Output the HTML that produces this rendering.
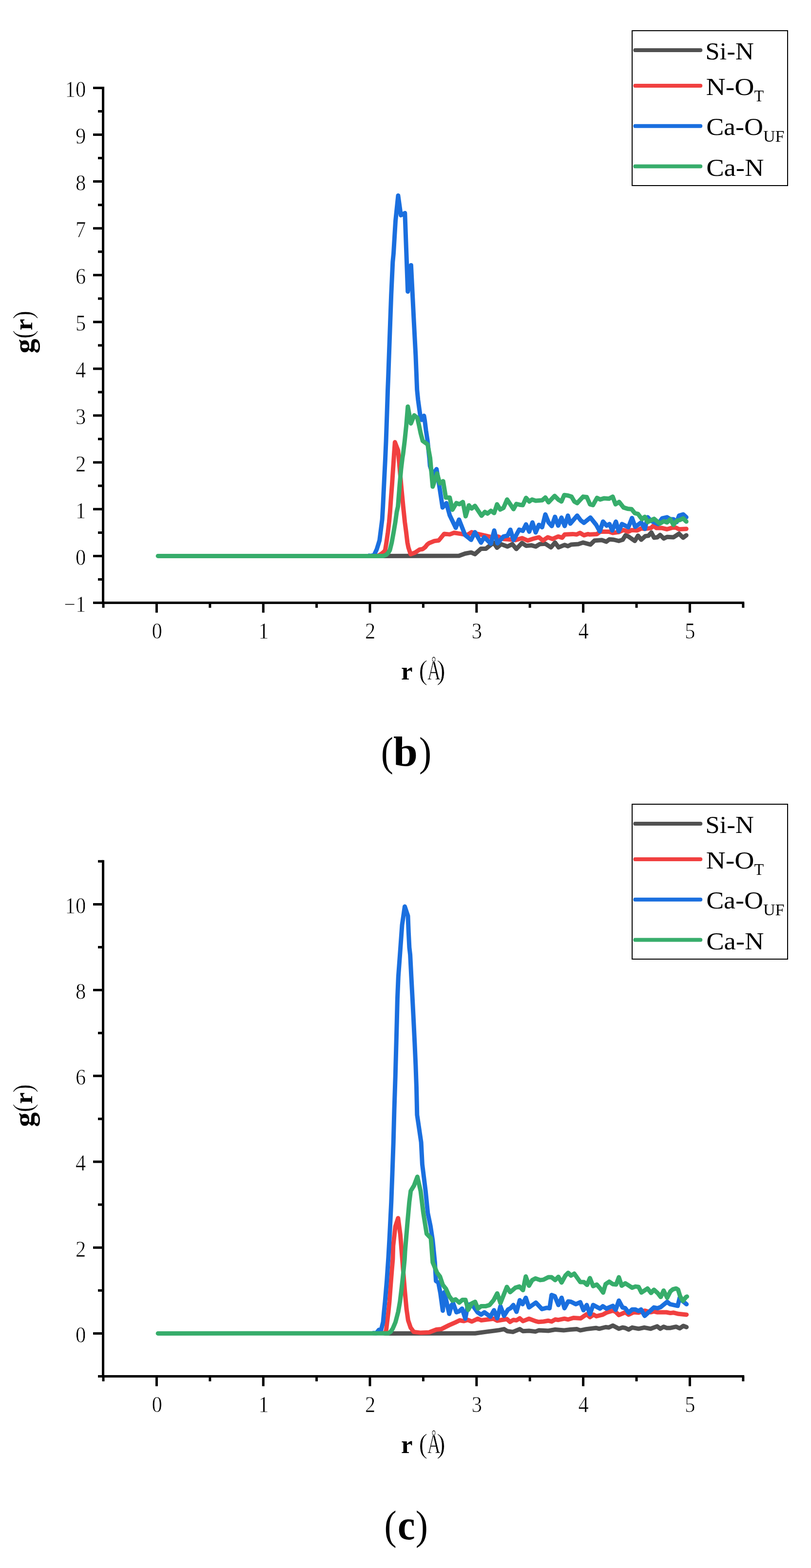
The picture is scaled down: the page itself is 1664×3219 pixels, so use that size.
<!DOCTYPE html>
<html lang="en">
<head>
<meta charset="utf-8">
<title>Radial distribution functions g(r) – panels (b) and (c)</title>
<style>
html,body{margin:0;padding:0;background:#fff;}
body{width:1664px;height:3219px;overflow:hidden;}
svg{display:block;font-family:"Liberation Serif","DejaVu Serif",serif;fill:#000;}
.tk text{font-size:46px;stroke:#fff;stroke-width:0.7px;}
.lg text{font-size:51px;}
.lg .sb{font-size:33.5px;}
.yt{font-size:53px;}
.yg{font-size:60px;}
.yp{font-size:58px;stroke:#fff;stroke-width:0.7px;}
.th{stroke:#fff;stroke-width:0.7px;}
.xa{font-size:58px;}
.xt{font-size:53px;}
.cap{font-size:84px;}
.cb{font-size:87px;}
.b{font-weight:bold;}
</style>
</head>
<body>
<svg width="1664" height="3219" viewBox="0 0 1664 3219">
<rect width="1664" height="3219" fill="#fff"/>
<g id="panel-b">
<g stroke="#000" stroke-width="5" fill="none">
<path d="M211.5 177.9 V1240"/>
<path d="M209 1237.5 H1527.1"/>
<path d="M211.5 1237.5 H191 M211.5 1141.4 H191 M211.5 1045.3 H191 M211.5 949.2 H191 M211.5 853.1 H191 M211.5 757 H191 M211.5 660.9 H191 M211.5 564.8 H191 M211.5 468.7 H191 M211.5 372.6 H191 M211.5 276.5 H191 M211.5 180.4 H191 M211.5 1189.5 H201 M211.5 1093.4 H201 M211.5 997.3 H201 M211.5 901.2 H201 M211.5 805.1 H201 M211.5 709 H201 M211.5 612.9 H201 M211.5 516.8 H201 M211.5 420.7 H201 M211.5 324.6 H201 M211.5 228.5 H201 M321.4 1237.5 V1257.8 M540.2 1237.5 V1257.8 M759 1237.5 V1257.8 M977.8 1237.5 V1257.8 M1196.6 1237.5 V1257.8 M1415.4 1237.5 V1257.8 M212 1237.5 V1247.8 M430.8 1237.5 V1247.8 M649.6 1237.5 V1247.8 M868.4 1237.5 V1247.8 M1087.2 1237.5 V1247.8 M1306 1237.5 V1247.8 M1524.8 1237.5 V1247.8"/>
</g>
<g class="tk">
<text x="131.5" y="1255.8" textLength="44.7" lengthAdjust="spacingAndGlyphs">−1</text>
<text x="154.9" y="1159.7" textLength="21.3" lengthAdjust="spacingAndGlyphs">0</text>
<text x="154.9" y="1063.6" textLength="21.3" lengthAdjust="spacingAndGlyphs">1</text>
<text x="154.9" y="967.5" textLength="21.3" lengthAdjust="spacingAndGlyphs">2</text>
<text x="154.9" y="871.4" textLength="21.3" lengthAdjust="spacingAndGlyphs">3</text>
<text x="154.9" y="775.3" textLength="21.3" lengthAdjust="spacingAndGlyphs">4</text>
<text x="154.9" y="679.2" textLength="21.3" lengthAdjust="spacingAndGlyphs">5</text>
<text x="154.9" y="583.1" textLength="21.3" lengthAdjust="spacingAndGlyphs">6</text>
<text x="154.9" y="487" textLength="21.3" lengthAdjust="spacingAndGlyphs">7</text>
<text x="154.9" y="390.9" textLength="21.3" lengthAdjust="spacingAndGlyphs">8</text>
<text x="154.9" y="294.8" textLength="21.3" lengthAdjust="spacingAndGlyphs">9</text>
<text x="133.6" y="198.7" textLength="42.6" lengthAdjust="spacingAndGlyphs">10</text>
<text x="311.4" y="1310.7" textLength="21.3" lengthAdjust="spacingAndGlyphs">0</text>
<text x="530.2" y="1310.7" textLength="21.3" lengthAdjust="spacingAndGlyphs">1</text>
<text x="749" y="1310.7" textLength="21.3" lengthAdjust="spacingAndGlyphs">2</text>
<text x="967.8" y="1310.7" textLength="21.3" lengthAdjust="spacingAndGlyphs">3</text>
<text x="1186.5" y="1310.7" textLength="21.3" lengthAdjust="spacingAndGlyphs">4</text>
<text x="1405.3" y="1310.7" textLength="21.3" lengthAdjust="spacingAndGlyphs">5</text>
</g>
<polyline points="780,1141.4 941.8,1141 954.2,1136.5 966.6,1134.2 974.5,1137.6 986.9,1126.4 997,1126.4 1012.8,1114 1019.8,1124.5 1028.1,1117.1 1041.3,1122 1051.2,1117.1 1059.5,1127 1071,1114.6 1079.3,1120.4 1090.8,1119.6 1099.1,1122 1107.4,1117.1 1118.9,1116.3 1130.5,1123.7 1138.7,1113.8 1146.2,1123.7 1158.6,1118.7 1165.2,1121.2 1171.8,1117.9 1186.6,1117.1 1196.5,1113.8 1211.4,1117.9 1219.9,1109.7 1234.8,1108.8 1243.9,1112.1 1250.5,1107.2 1259.5,1108 1269.5,1110.5 1277.7,1108 1283.5,1098.9 1289.3,1101.4 1302.5,1110.5 1309.1,1099.7 1315.7,1108 1324,1100.6 1330.6,1099.7 1336.4,1093.1 1342.1,1103.9 1348.7,1103 1354.5,1098.1 1362,1105.5 1368.6,1102.2 1381.8,1103 1393.3,1095.6 1401.6,1103.9 1408.2,1098.9" fill="none" stroke="#515151" stroke-width="9" stroke-linejoin="round" stroke-linecap="round"/>
<polyline points="771,1140.8 776,1141 782,1137.5 787.5,1133 790.3,1129.4 792.9,1113.6 795.9,1092.6 798.4,1071.5 800.3,1050.5 802,1026.2 804.4,994.6 806.5,963.1 808.6,931.5 810.3,907.8 816.8,924.8 823.6,1001.4 827.3,1040 830.6,1071.5 833.4,1092.6 835.9,1113.6 838,1124.1 842.5,1137.8 851.5,1134.6 860.9,1128.3 867.2,1127.3 872.5,1123.1 876.7,1117.8 880.1,1115.2 891.2,1110.6 900.2,1109.5 911.4,1095.9 922.7,1097.1 931.7,1093.7 945.2,1095.9 958.7,1098.2 967.7,1092.6 979,1095.9 994.8,1099.3 1008.3,1102.7 1021.5,1101.4 1033,1106.4 1042.9,1107.2 1057.8,1108.8 1071,1104.7 1082.6,1109.7 1092.5,1106.4 1105.7,1103 1114,1109.7 1123.9,1103 1133.8,1106.4 1145.3,1101.4 1153.6,1103.9 1158.6,1097.3 1175.1,1096.4 1183.3,1097.3 1189.9,1094 1198.2,1098.9 1206.5,1096.4 1210,1097.3 1224.9,1096.4 1231.5,1091.5 1249.6,1091.5 1257.1,1094 1269.5,1092.3 1279.4,1088.2 1289.3,1091.5 1295.9,1088.2 1307.4,1089 1315.7,1084.9 1322.3,1085.7 1335.5,1084.1 1340.5,1079.1 1347.1,1084.1 1358.6,1084.1 1368.6,1086.5 1380.1,1083.2 1386.7,1083.2 1393.3,1086.5 1408.2,1085.7" fill="none" stroke="#F14040" stroke-width="9" stroke-linejoin="round" stroke-linecap="round"/>
<polyline points="757,1140.8 762.3,1141.2 767.8,1138.8 773.2,1127.3 778.7,1109.4 784.2,1066.3 785.7,1040 788.4,984.1 790.5,942 792.1,905.2 793.9,852.6 795.6,800 796.6,775.1 800.6,662.5 802.7,605.2 805.8,537.7 807.5,519.9 811.5,453.6 816.9,401.6 822.5,441.9 830.8,437.4 836.7,598.5 843.4,544.4 849.3,661.5 852.9,730 855.7,800 857.8,821 860.7,842.1 863.1,858.9 865.2,862 869.9,853.6 871.5,863.1 874.1,884.1 877.3,905.2 879.4,926.2 880.9,940 882.2,956.3 887.8,974.3 895.7,963.1 900.2,990.1 908.1,1041.9 915.9,1032.9 922.7,1057.7 935.1,1083.6 941.8,1066.7 954.2,1098.2 966.6,1108.3 974.5,1092.6 986.9,1114 993.6,1102.7 1007.2,1116.2 1014,1089 1020.6,1115.4 1033,1101.4 1041.3,1099.7 1047.1,1087.4 1053.7,1108.8 1065.2,1087.4 1072.7,1089.8 1079.3,1076.6 1085.9,1091.5 1092.5,1072.5 1099.1,1093.1 1105.7,1077.4 1112.3,1082.4 1118.9,1056 1125.5,1072.5 1132.1,1079.9 1138.7,1060.9 1145.3,1079.1 1152,1062.6 1158.6,1079.9 1165.2,1058.5 1170.1,1075 1184.2,1058.5 1191.6,1068.4 1198.2,1073.3 1211.4,1062.6 1223.2,1077.4 1230.6,1090.7 1237.3,1070.8 1244.7,1079.1 1250.5,1075.8 1256.2,1089 1263.7,1070.8 1269.5,1090.7 1276.1,1075.8 1282.7,1079.1 1289.3,1082.4 1296.7,1063.4 1303.3,1081.6 1315.7,1072.5 1323.1,1085.7 1328.9,1061.8 1335.5,1069.2 1350.4,1075.8 1358.6,1064.2 1368.6,1061.8 1375.2,1065.9 1381.8,1065.9 1388.4,1071.7 1393.3,1058.5 1401.6,1056 1408.2,1061.8" fill="none" stroke="#1A6FDF" stroke-width="9" stroke-linejoin="round" stroke-linecap="round"/>
<polyline points="324.1,1141.4 786.3,1141.4 792.6,1138.8 796.8,1134.6 799.9,1129.4 803.8,1113.6 807.6,1092.6 811.2,1071.5 814.1,1050.5 816.5,1040 817.6,1026.2 820.1,994.6 822.9,963.1 825.7,940 827.1,931.5 830.3,905.2 833.6,873.6 836.8,834.7 843.1,869.4 849.9,852.6 856.2,857.8 859.4,871.5 863.1,889.4 867.3,905.2 874.6,910.4 877.3,912.5 879.9,926.2 882.5,940 887.8,999.1 896.8,972.1 902.4,992.3 909.2,987.8 914.8,1021.6 922.7,1021.6 928.3,1046.4 936.2,1032.9 943,1035.1 949.7,1030.6 955.4,1059.9 962.1,1037.4 967.7,1044.1 974.5,1038.5 988,1058.8 994.8,1050.9 1000.4,1054.3 1007.2,1048.6 1013.9,1053.2 1019.8,1035.3 1026.4,1046.1 1033,1042.8 1040.5,1025.4 1053.7,1045.2 1059.5,1034.5 1066.1,1036.2 1072.7,1037 1079.3,1022.1 1085.9,1029.5 1091.7,1025.4 1099.1,1027.9 1112.3,1027.1 1118.9,1021.3 1125.5,1031.2 1137.9,1018 1146.2,1026.2 1152,1029.5 1157.7,1016.3 1165.2,1017.2 1172.6,1019.6 1178.4,1029.5 1184.2,1032.9 1196.5,1019.6 1204,1020.5 1210.6,1035.3 1216.6,1037 1224.9,1022.1 1231.5,1025.4 1239.7,1022.9 1249.6,1023.8 1257.1,1019.6 1262.9,1035.3 1270.3,1030.4 1279.4,1041.9 1287.6,1044.4 1295.9,1045.2 1302.5,1053.5 1309.1,1055.2 1317.4,1065.9 1323.1,1060.9 1328.9,1071.7 1342.1,1065.1 1353.7,1075 1362,1070 1368.6,1072.5 1375.2,1065.9 1381.8,1077.4 1388.4,1069.2 1395,1067.5 1401.6,1064.2 1408.2,1070.8" fill="none" stroke="#37AD6B" stroke-width="9" stroke-linejoin="round" stroke-linecap="round"/>
<rect x="1297" y="63" width="319" height="318" fill="#fff" stroke="#000" stroke-width="2"/>
<path d="M1303.2 103 H1437.2" stroke="#515151" stroke-width="8" stroke-linecap="round"/>
<path d="M1303.2 176 H1437.2" stroke="#F14040" stroke-width="8" stroke-linecap="round"/>
<path d="M1303.2 258.7 H1437.2" stroke="#1A6FDF" stroke-width="8" stroke-linecap="round"/>
<path d="M1303.2 341.5 H1437.2" stroke="#37AD6B" stroke-width="8" stroke-linecap="round"/>
<g class="lg">
<text x="1447.2" y="121.9" textLength="99.7" lengthAdjust="spacingAndGlyphs">Si-N</text>
<text x="1448.5" y="194.7"><tspan textLength="98.9" lengthAdjust="spacingAndGlyphs">N-O</tspan><tspan class="sb" dy="13.2" textLength="19.6" lengthAdjust="spacingAndGlyphs">T</tspan></text>
<text x="1449.2" y="277.3"><tspan textLength="116.7" lengthAdjust="spacingAndGlyphs">Ca-O</tspan><tspan class="sb" dy="13.2" textLength="43.5" lengthAdjust="spacingAndGlyphs">UF</tspan></text>
<text x="1449.2" y="360.7" textLength="118.3" lengthAdjust="spacingAndGlyphs">Ca-N</text>
</g>
<text class="yt" transform="translate(65.6 723.9) rotate(-90)"><tspan class="b yg" x="-1.5" dy="3">g</tspan><tspan class="yp" x="28.6" dy="-2.2" textLength="17.2" lengthAdjust="spacingAndGlyphs">(</tspan><tspan class="b" x="45.7" dy="-0.8">r</tspan><tspan class="yp" x="69" dy="0.8" textLength="17.2" lengthAdjust="spacingAndGlyphs">)</tspan></text>
<text class="xt" x="823" y="1394.6"><tspan class="b">r</tspan> <tspan class="th xa" x="859.4" textLength="17.4" lengthAdjust="spacingAndGlyphs">(</tspan><tspan class="th xa" textLength="27.1" lengthAdjust="spacingAndGlyphs">Å</tspan><tspan class="th xa" dx="-7.7" textLength="17.4" lengthAdjust="spacingAndGlyphs">)</tspan></text>
<text class="cap" x="781.8" y="1572.4"><tspan textLength="25.2" lengthAdjust="spacingAndGlyphs">(</tspan><tspan class="b cb" dx="0" textLength="50" lengthAdjust="spacingAndGlyphs">b</tspan><tspan dx="3" textLength="25.2" lengthAdjust="spacingAndGlyphs">)</tspan></text>
</g>
<g id="panel-c">
<g stroke="#000" stroke-width="5" fill="none">
<path d="M211.5 1765.8 V2828"/>
<path d="M209 2825.5 H1527.1"/>
<path d="M211.5 2737.4 H191 M211.5 2561.2 H191 M211.5 2385 H191 M211.5 2208.8 H191 M211.5 2032.6 H191 M211.5 1856.4 H191 M211.5 2825.5 H201 M211.5 2649.3 H201 M211.5 2473.1 H201 M211.5 2296.9 H201 M211.5 2120.7 H201 M211.5 1944.5 H201 M211.5 1768.3 H201 M321.4 2825.5 V2845.8 M540.2 2825.5 V2845.8 M759 2825.5 V2845.8 M977.8 2825.5 V2845.8 M1196.6 2825.5 V2845.8 M1415.4 2825.5 V2845.8 M212 2825.5 V2835.8 M430.8 2825.5 V2835.8 M649.6 2825.5 V2835.8 M868.4 2825.5 V2835.8 M1087.2 2825.5 V2835.8 M1306 2825.5 V2835.8 M1524.8 2825.5 V2835.8"/>
</g>
<g class="tk">
<text x="154.9" y="2755.7" textLength="21.3" lengthAdjust="spacingAndGlyphs">0</text>
<text x="154.9" y="2579.5" textLength="21.3" lengthAdjust="spacingAndGlyphs">2</text>
<text x="154.9" y="2403.3" textLength="21.3" lengthAdjust="spacingAndGlyphs">4</text>
<text x="154.9" y="2227.1" textLength="21.3" lengthAdjust="spacingAndGlyphs">6</text>
<text x="154.9" y="2050.9" textLength="21.3" lengthAdjust="spacingAndGlyphs">8</text>
<text x="133.6" y="1874.7" textLength="42.6" lengthAdjust="spacingAndGlyphs">10</text>
<text x="311.4" y="2898.7" textLength="21.3" lengthAdjust="spacingAndGlyphs">0</text>
<text x="530.2" y="2898.7" textLength="21.3" lengthAdjust="spacingAndGlyphs">1</text>
<text x="749" y="2898.7" textLength="21.3" lengthAdjust="spacingAndGlyphs">2</text>
<text x="967.8" y="2898.7" textLength="21.3" lengthAdjust="spacingAndGlyphs">3</text>
<text x="1186.5" y="2898.7" textLength="21.3" lengthAdjust="spacingAndGlyphs">4</text>
<text x="1405.3" y="2898.7" textLength="21.3" lengthAdjust="spacingAndGlyphs">5</text>
</g>
<polyline points="790,2737.4 950,2737.2 974.8,2737.2 999.5,2733.9 1024.3,2730.6 1034.2,2728.6 1040.8,2732.8 1052.4,2734.4 1066.4,2728.6 1073,2732.8 1085.4,2732 1098.6,2733.6 1105.3,2731.1 1125.1,2732 1139.1,2729.5 1156.5,2731.1 1169.9,2729.5 1183.9,2728.6 1190.6,2731.1 1202.9,2728.6 1222.8,2726.2 1229.4,2727.8 1242.6,2724.5 1249.2,2725.3 1257.4,2721.2 1269.8,2727.8 1277.3,2725.3 1283,2726.2 1289.7,2729.5 1297.1,2725.3 1310.3,2727.8 1321.9,2725.3 1335.1,2727.8 1348.3,2722.9 1354.9,2727.8 1361.5,2723.7 1368.1,2726.2 1375.6,2726.2 1387.2,2723.7 1394.6,2727 1402,2722 1408.6,2724.5" fill="none" stroke="#515151" stroke-width="9" stroke-linejoin="round" stroke-linecap="round"/>
<polyline points="786,2736.8 790.8,2737 792.6,2728.8 794.3,2714.1 796.9,2693.1 799,2672.1 800.6,2651 802.2,2630 803.8,2610 805.9,2585 806.7,2557.7 811.2,2517.8 816.8,2500.7 821.4,2535.1 825.9,2591.4 830.4,2647.7 834.1,2687.4 837.4,2710.5 842.4,2725.3 849,2734.4 863.9,2736.1 880.4,2735.3 895.3,2729.5 905.2,2728.6 921.7,2720.4 934.9,2714.6 943.2,2710.5 951.4,2712.1 959.9,2709.7 968.2,2713 980.6,2707.2 987.2,2710.5 1012.8,2707.2 1020.2,2711.3 1040,2708 1046.6,2713.8 1053.2,2709.7 1059.8,2710.5 1066.4,2706.4 1073,2712.1 1085.4,2707.2 1098.6,2712.1 1105.3,2713.8 1115.2,2713 1125.1,2711.3 1131.7,2713 1139.1,2708.8 1145.7,2709.7 1158.1,2707.2 1165.8,2708.8 1176.5,2705.5 1191.4,2706.4 1203.8,2698.1 1210.4,2703.9 1217.8,2698.9 1223.6,2702.2 1236.8,2698.9 1244.2,2694.8 1257.4,2690.7 1263.2,2693.1 1269.8,2699.7 1283,2694 1289.7,2698.9 1300.4,2694 1310.3,2694.8 1322.7,2690.7 1335.1,2694 1341.7,2692.3 1349.1,2694 1367.4,2694 1375.6,2695.6 1382.2,2694.8 1392.1,2697.3 1408.6,2698.9" fill="none" stroke="#F14040" stroke-width="9" stroke-linejoin="round" stroke-linecap="round"/>
<polyline points="766,2736.8 772.1,2737 777.5,2729.9 782.1,2729.9 786,2714.1 787.9,2693.1 790,2672.1 791.8,2651 793.6,2630 795.3,2605 797,2580 799.5,2535.1 802.8,2467.6 804.9,2411.3 807.2,2345.2 809,2277.7 811.2,2210.1 813.1,2140 814.3,2095 815.4,2050 817.3,2005 820.6,1960 825,1898.9 830.5,1861 837,1880.5 838.3,1913.6 839.9,1945.2 841.6,1960 843.9,2005 846.3,2050 848.6,2095 850.8,2140 852.9,2187.6 854.5,2232.6 855.8,2288.9 860.8,2322.7 864.1,2345.2 866.4,2390.3 873.2,2445 877.7,2490.1 883.3,2517.1 887.8,2546.4 892.3,2591.4 894.5,2629.7 899.4,2632.9 903.5,2654.3 908.5,2690.7 911.8,2652.7 921.7,2697.3 926.6,2679.1 929.9,2675.8 936.5,2694 941.5,2692.3 948.1,2686.5 954.7,2707.2 959.9,2679.1 964.9,2677.4 971.5,2682.4 979.7,2694 987.2,2698.9 993.8,2694 1006.2,2703 1013.6,2689.8 1020.2,2706.4 1026.8,2681.6 1034.2,2701.4 1042.5,2688.2 1047.4,2685.7 1053.2,2679.1 1059.8,2693.1 1066.4,2669.2 1072.2,2677.4 1078.8,2664.2 1085.4,2684.1 1099.5,2674.1 1111.9,2687.4 1121.8,2684.9 1127.6,2685.7 1131.7,2658.5 1138.3,2660.9 1145.7,2679.1 1152.3,2664.2 1158.1,2685.7 1160,2682.4 1165.8,2671.7 1171.6,2672.5 1181.5,2677.4 1190.6,2673.3 1197.2,2689.8 1203.8,2679.1 1210.4,2698.1 1217,2679.1 1231,2686.5 1236.8,2681.6 1244.2,2686.5 1257.4,2680.8 1263.2,2689 1269.8,2670 1277.3,2684.1 1283,2685.7 1289.7,2694.8 1297.1,2688.2 1303.7,2688.2 1310.3,2691.5 1315.3,2688.2 1322.7,2701.4 1341.7,2684.1 1349.1,2685.7 1355.7,2683.2 1368.9,2672.5 1374.7,2677.4 1390.5,2680.8 1394.6,2664.2 1400.4,2670.8 1408.6,2677.4" fill="none" stroke="#1A6FDF" stroke-width="9" stroke-linejoin="round" stroke-linecap="round"/>
<polyline points="324.1,2737.4 796.3,2737.3 801.5,2734.1 805.7,2727.8 808.9,2720.4 811.5,2714.1 817,2693.1 820.7,2672.1 823.3,2651 825.7,2630 827.5,2613 830.2,2585 831.1,2568.9 835.8,2512.6 839.8,2467.6 842.7,2445 849.5,2433.8 856.3,2415.8 863,2445 868.6,2490.1 875.4,2532.9 884,2541.9 887.8,2591.4 892,2601.5 896.9,2613 902.7,2620.5 908.5,2637.8 915.1,2646.1 921.7,2660.9 928.3,2670 934.9,2667.5 942.3,2674.1 948.9,2668.4 950,2668.4 955,2668.4 960.7,2689 968.2,2675.8 974.8,2672.5 980.6,2686.5 987.2,2681.6 996.2,2681.6 1004.5,2679.1 1012.8,2669.2 1020.2,2655.2 1026.8,2675 1040,2641.9 1046.6,2652.7 1057.4,2643.6 1065.6,2641.1 1073,2648.5 1078.8,2620.5 1085.4,2639.5 1092,2627.9 1098.6,2624.6 1108.6,2627.9 1115.2,2627.1 1125.1,2622.1 1131.7,2622.1 1139.1,2627.9 1145.7,2621.3 1152.3,2632.9 1160,2618.8 1165.8,2613 1171.6,2618.8 1178.2,2614.7 1190.6,2632 1198,2632 1204.6,2637.8 1210.4,2623.8 1217,2640.3 1224.4,2637 1231,2644.4 1237.6,2653.5 1242.6,2636.2 1250,2631.2 1257.4,2636.2 1264.1,2637 1269.8,2622.1 1275.6,2639.5 1283,2634.5 1297.1,2643.6 1303.7,2641.1 1310.3,2641.9 1316.1,2653.5 1328.5,2645.2 1335.9,2654.3 1341.7,2647.7 1349.1,2654.3 1355.7,2662.6 1361.6,2649.4 1369,2664.2 1375.6,2651 1380.6,2646.9 1387.2,2645.2 1391.3,2647.7 1395.4,2660.9 1401.2,2670.8 1407.8,2662.6 1409.5,2661.8" fill="none" stroke="#37AD6B" stroke-width="9" stroke-linejoin="round" stroke-linecap="round"/>
<rect x="1297" y="1651" width="319" height="318" fill="#fff" stroke="#000" stroke-width="2"/>
<path d="M1303.2 1691 H1437.2" stroke="#515151" stroke-width="8" stroke-linecap="round"/>
<path d="M1303.2 1764 H1437.2" stroke="#F14040" stroke-width="8" stroke-linecap="round"/>
<path d="M1303.2 1846.7 H1437.2" stroke="#1A6FDF" stroke-width="8" stroke-linecap="round"/>
<path d="M1303.2 1929.5 H1437.2" stroke="#37AD6B" stroke-width="8" stroke-linecap="round"/>
<g class="lg">
<text x="1447.2" y="1709.9" textLength="99.7" lengthAdjust="spacingAndGlyphs">Si-N</text>
<text x="1448.5" y="1782.7"><tspan textLength="98.9" lengthAdjust="spacingAndGlyphs">N-O</tspan><tspan class="sb" dy="13.2" textLength="19.6" lengthAdjust="spacingAndGlyphs">T</tspan></text>
<text x="1449.2" y="1865.3"><tspan textLength="116.7" lengthAdjust="spacingAndGlyphs">Ca-O</tspan><tspan class="sb" dy="13.2" textLength="43.5" lengthAdjust="spacingAndGlyphs">UF</tspan></text>
<text x="1449.2" y="1948.7" textLength="118.3" lengthAdjust="spacingAndGlyphs">Ca-N</text>
</g>
<text class="yt" transform="translate(65.6 2311.9) rotate(-90)"><tspan class="b yg" x="-1.5" dy="3">g</tspan><tspan class="yp" x="28.6" dy="-2.2" textLength="17.2" lengthAdjust="spacingAndGlyphs">(</tspan><tspan class="b" x="45.7" dy="-0.8">r</tspan><tspan class="yp" x="69" dy="0.8" textLength="17.2" lengthAdjust="spacingAndGlyphs">)</tspan></text>
<text class="xt" x="823" y="2982.6"><tspan class="b">r</tspan> <tspan class="th xa" x="859.4" textLength="17.4" lengthAdjust="spacingAndGlyphs">(</tspan><tspan class="th xa" textLength="27.1" lengthAdjust="spacingAndGlyphs">Å</tspan><tspan class="th xa" dx="-7.7" textLength="17.4" lengthAdjust="spacingAndGlyphs">)</tspan></text>
<text class="cap" x="788.6" y="3160.4"><tspan textLength="25.2" lengthAdjust="spacingAndGlyphs">(</tspan><tspan class="b cb" dx="2.2" textLength="35.6" lengthAdjust="spacingAndGlyphs">c</tspan><tspan dx="1.2" textLength="25.2" lengthAdjust="spacingAndGlyphs">)</tspan></text>
</g>
</svg>
</body>
</html>
